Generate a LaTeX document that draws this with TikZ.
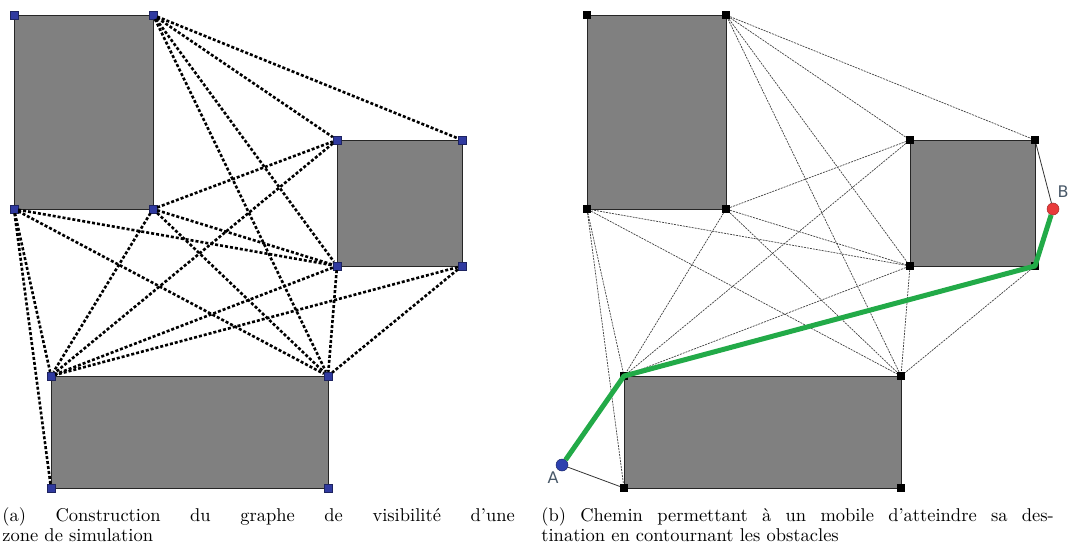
\documentclass[tikz,border=0pt]{standalone}
\usepackage{fontspec}
\newfontfamily\labelfont{DejaVu Sans}
\definecolor{obstgray}{RGB}{128,128,128}
\definecolor{vtxblue}{RGB}{48,58,160}
\definecolor{startblue}{RGB}{45,65,175}
\definecolor{goalred}{RGB}{232,58,58}
\definecolor{routegreen}{RGB}{34,170,72}
\definecolor{labelgray}{RGB}{72,88,104}
\begin{document}
\begin{tikzpicture}[x=1pt,y=-1pt,
    obstacle/.style={fill=obstgray,draw=black!85,line width=0.8pt},
    corner/.style={rectangle,draw=vtxblue!60!black,fill=vtxblue,minimum size=8pt,inner sep=0pt,line width=0.4pt},
    cornerb/.style={rectangle,fill=black,minimum size=8pt,inner sep=0pt},
    visi/.style={line width=2.6pt,dash pattern=on 3pt off 2pt,black},
    visib/.style={line width=0.7pt,dash pattern=on 2pt off 1pt,black!75},
    link/.style={line width=0.8pt,black!80},
    route/.style={line width=5pt,routegreen,line join=round},
    endpt/.style={circle,minimum size=12pt,inner sep=0pt,line width=0.5pt},
    ptlabel/.style={font=\labelfont\fontsize{16}{16}\selectfont,text=labelgray,inner sep=0pt},
    caption/.style={anchor=north west,text width=277pt,align=justify,inner sep=0pt,
        font=\fontsize{10}{11}\selectfont,scale=1.85,transform shape}
]
\useasboundingbox (0,0) rectangle (1087,546);

% (a) visibility graph
\draw[obstacle] (14,15) rectangle (153,209);
\draw[obstacle] (337,140) rectangle (462,266);
\draw[obstacle] (51,376) rectangle (328,488);

\node[corner] (a1nw) at (14,15)   {};
\node[corner] (a1ne) at (153,15)  {};
\node[corner] (a1sw) at (14,209)  {};
\node[corner] (a1se) at (153,209) {};
\node[corner] (a2nw) at (337,140) {};
\node[corner] (a2ne) at (462,140) {};
\node[corner] (a2sw) at (337,266) {};
\node[corner] (a2se) at (462,266) {};
\node[corner] (a3nw) at (51,376)  {};
\node[corner] (a3ne) at (328,376) {};
\node[corner] (a3sw) at (51,488)  {};
\node[corner] (a3se) at (328,488) {};

\draw[visi] (a1ne) -- (a2nw);
\draw[visi] (a1ne) -- (a2ne);
\draw[visi] (a1ne) -- (a2sw);
\draw[visi] (a1ne) -- (a3ne);
\draw[visi] (a1se) -- (a2nw);
\draw[visi] (a1se) -- (a2sw);
\draw[visi] (a1se) -- (a3nw);
\draw[visi] (a1se) -- (a3ne);
\draw[visi] (a1sw) -- (a2sw);
\draw[visi] (a1sw) -- (a3nw);
\draw[visi] (a1sw) -- (a3ne);
\draw[visi] (a1sw) -- (a3sw);
\draw[visi] (a2nw) -- (a3nw);
\draw[visi] (a2sw) -- (a3nw);
\draw[visi] (a2sw) -- (a3ne);
\draw[visi] (a2se) -- (a3nw);
\draw[visi] (a2se) -- (a3ne);

% (b) shortest path from A to B
\begin{scope}[xshift=573pt]
\draw[obstacle] (14,15) rectangle (153,209);
\draw[obstacle] (337,140) rectangle (462,266);
\draw[obstacle] (51,376) rectangle (328,488);

\node[cornerb] (b1nw) at (14,15)   {};
\node[cornerb] (b1ne) at (153,15)  {};
\node[cornerb] (b1sw) at (14,209)  {};
\node[cornerb] (b1se) at (153,209) {};
\node[cornerb] (b2nw) at (337,140) {};
\node[cornerb] (b2ne) at (462,140) {};
\node[cornerb] (b2sw) at (337,266) {};
\node[cornerb] (b2se) at (462,266) {};
\node[cornerb] (b3nw) at (51,376)  {};
\node[cornerb] (b3ne) at (328,376) {};
\node[cornerb] (b3sw) at (51,488)  {};
\node[cornerb] (b3se) at (328,488) {};
\end{scope}

\draw[visib] (b1ne) -- (b2nw);
\draw[visib] (b1ne) -- (b2ne);
\draw[visib] (b1ne) -- (b2sw);
\draw[visib] (b1ne) -- (b3ne);
\draw[visib] (b1se) -- (b2nw);
\draw[visib] (b1se) -- (b2sw);
\draw[visib] (b1se) -- (b3nw);
\draw[visib] (b1se) -- (b3ne);
\draw[visib] (b1sw) -- (b2sw);
\draw[visib] (b1sw) -- (b3nw);
\draw[visib] (b1sw) -- (b3ne);
\draw[visib] (b1sw) -- (b3sw);
\draw[visib] (b2nw) -- (b3nw);
\draw[visib] (b2sw) -- (b3nw);
\draw[visib] (b2sw) -- (b3ne);
\draw[visib] (b2se) -- (b3ne);

\node[endpt,fill=startblue,draw=startblue!60!black] (A) at (562,465) {};
\node[endpt,fill=goalred,draw=goalred!70!black]     (B) at (1053,209) {};
\node[ptlabel] (Alab) at (553,478) {A};
\node[ptlabel] (Blab) at (1063,192) {B};

\draw[link] (A) -- (b3sw);
\draw[link] (B) -- (b2ne);
\draw[route] (A) -- (b3nw.center) -- (b2se.center) -- (B);

% captions
\node[caption] (capa) at (2,507) {(a) Construction du graphe de visibilité d'une\linebreak zone de simulation};
\node[caption] (capb) at (541,507) {(b) Chemin permettant à un mobile d'atteindre sa des-\linebreak tination en contournant les obstacles};
\end{tikzpicture}
\end{document}
